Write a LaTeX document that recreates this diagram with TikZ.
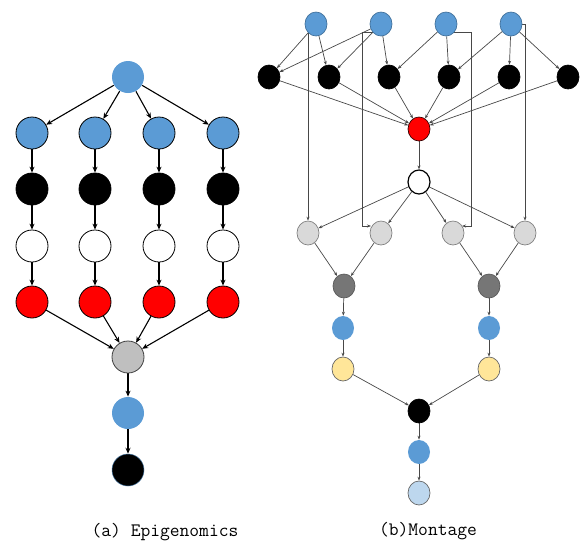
\documentclass[tikz,border=0pt]{standalone}
\usepackage{fontspec}
\usetikzlibrary{arrows.meta,shapes.geometric,backgrounds}
\definecolor{nblue}{RGB}{91,155,213}
\definecolor{nblueb}{RGB}{65,113,156}
\definecolor{nred}{RGB}{255,0,0}
\definecolor{egray}{RGB}{191,191,191}
\definecolor{lgray}{RGB}{217,217,217}
\definecolor{dgray}{RGB}{118,118,118}
\definecolor{nyel}{RGB}{255,230,153}
\definecolor{lblue}{RGB}{189,215,238}
\definecolor{mline}{RGB}{72,72,72}
\tikzset{
  en/.style={circle, minimum size=32pt, inner sep=0pt, draw=black, line width=0.8pt},
  mn/.style={ellipse, minimum width=22pt, minimum height=24pt, inner sep=0pt, line width=0.7pt},
  ea/.style={-{Stealth[length=6pt,width=5pt]}, line width=1.1pt, draw=black},
  ma/.style={-{Stealth[length=4pt,width=3pt]}, line width=0.7pt, draw=mline},
  captext/.style={font=\ttfamily\fontsize{19}{22}\selectfont, inner sep=0pt}
}
\begin{document}
\begin{tikzpicture}[x=1pt,y=-1pt]
\useasboundingbox (0,0) rectangle (581,544);
% ---------- Epigenomics ----------
\node[en, fill=nblue, draw=none] (E0) at (128,77) {};
\foreach \i/\x in {1/32,2/95,3/159,4/223}{
  \node[en, fill=nblue] (Eb\i) at (\x,133) {};
  \node[en, fill=black] (Ek\i) at (\x,189) {};
  \node[en, fill=white] (Ew\i) at (\x,246) {};
  \node[en, fill=nred] (Er\i) at (\x,302) {};
}
\node[en, fill=egray, draw=black!75] (Eg) at (128,357) {};
\node[en, fill=nblue, draw=none] (Eu) at (128,413) {};
\node[en, fill=black, draw=nblueb, line width=0.5pt] (Ez) at (128,470) {};
\begin{scope}[on background layer]
\foreach \i in {1,2,3,4}{
  \draw[ea] (E0) -- (Eb\i);
  \draw[ea] (Eb\i) -- (Ek\i);
  \draw[ea] (Ek\i) -- (Ew\i);
  \draw[ea] (Ew\i) -- (Er\i);
  \draw[ea] (Er\i) -- (Eg);
}
\draw[ea] (Eg) -- (Eu);
\draw[ea] (Eu) -- (Ez);
\end{scope}
\node[captext] (capa) at (165,532) {(a) Epigenomics};
% ---------- Montage ----------
\foreach \i/\x in {1/316,2/381,3/446,4/511}{
  \node[mn, fill=nblue, draw=nblueb] (B\i) at (\x,24) {};
}
\foreach \i/\x in {1/269,2/329,3/389,4/449,5/509,6/568}{
  \node[mn, fill=black, draw=black] (K\i) at (\x,77) {};
}
\node[mn, fill=nred, draw=black!80!red] (R) at (419,129) {};
\node[mn, fill=white, draw=black, line width=1.2pt] (W) at (419,182) {};
\foreach \i/\x in {1/308,2/381,3/453,4/525}{
  \node[mn, fill=lgray, draw=black!50] (G\i) at (\x,233) {};
}
\node[mn, fill=dgray, draw=black!65] (D1) at (344,286) {};
\node[mn, fill=dgray, draw=black!65] (D2) at (489,286) {};
\node[mn, fill=nblue, draw=none] (U1) at (343,328) {};
\node[mn, fill=nblue, draw=none] (U2) at (489,328) {};
\node[mn, fill=nyel, draw=black!60] (Y1) at (343,369) {};
\node[mn, fill=nyel, draw=black!60] (Y2) at (489,369) {};
\node[mn, fill=black, draw=black] (Z) at (419,411) {};
\node[mn, fill=nblue, draw=none] (Zu) at (419,452) {};
\node[mn, fill=lblue, draw=black!60] (Zl) at (419,493) {};
\begin{scope}[on background layer]
\draw[ma] (B1) -- (K1);
\draw[ma] (B1) -- (K2);
\draw[ma] (B2) -- (K1);
\draw[ma] (B2) -- (K2);
\draw[ma] (B2) -- (K3);
\draw[ma] (B3) -- (K3);
\draw[ma] (B3) -- (K4);
\draw[ma] (B4) -- (K4);
\draw[ma] (B4) -- (K5);
\draw[ma] (B4) -- (K6);
\foreach \i in {1,...,6}{ \draw[ma] (K\i) -- (R); }
\draw[ma] (R) -- (W);
\foreach \i in {1,...,4}{ \draw[ma] (W) -- (G\i); }
% routed connectors
\draw[ma] (G1.north |- B1.center) -- (G1.north);
\draw[ma] ([yshift=-8pt]B2.center) -| ([xshift=-19pt,yshift=7pt]G2.center) -- ([xshift=-10pt,yshift=7pt]G2.center);
\draw[ma] ([yshift=-8pt]B3.center) -| ([xshift=18pt,yshift=7pt]G3.center) -- ([xshift=9pt,yshift=7pt]G3.center);
\draw[ma] (B4.center) -| (G4.north);
\draw[ma] (G1) -- (D1);
\draw[ma] (G2) -- (D1);
\draw[ma] (G3) -- (D2);
\draw[ma] (G4) -- (D2);
\draw[ma] (D1) -- (U1);
\draw[ma] (D2) -- (U2);
\draw[ma] (U1) -- (Y1);
\draw[ma] (U2) -- (Y2);
\draw[ma] (Y1) -- (Z);
\draw[ma] (Y2) -- (Z);
\draw[ma] (Z) -- (Zu);
\draw[ma] (Zu) -- (Zl);
\end{scope}
\node[captext] (capb) at (428,531) {(b)Montage};
\end{tikzpicture}
\end{document}
